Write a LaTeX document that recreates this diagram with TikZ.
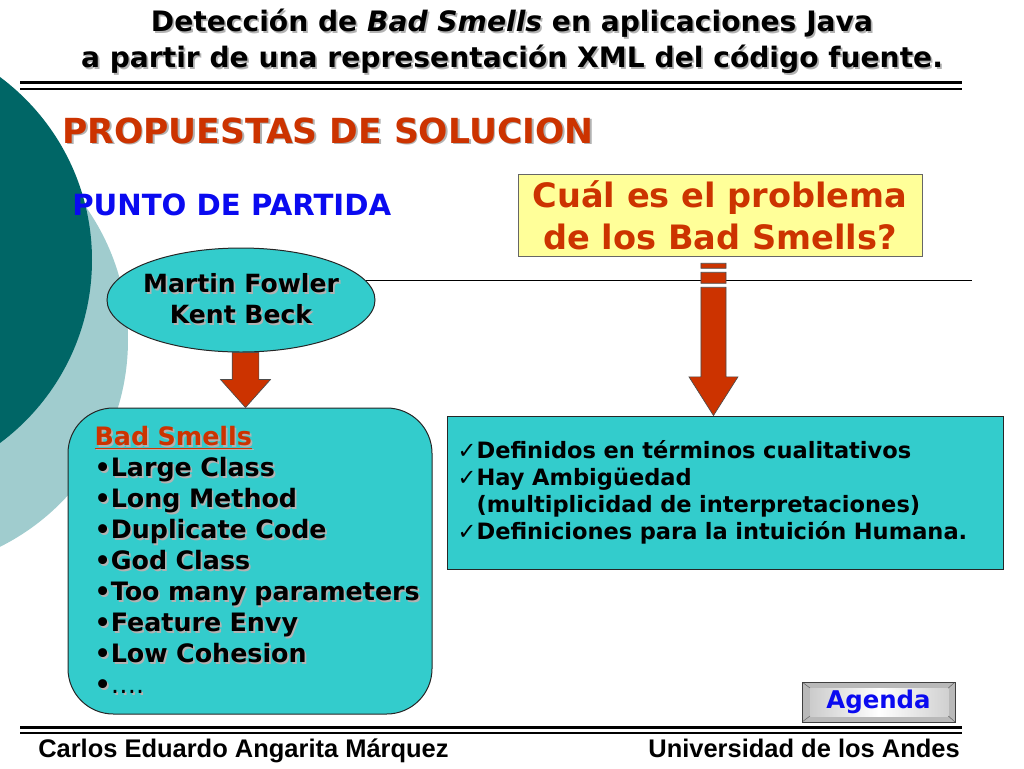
\documentclass[tikz,border=0pt]{standalone}
\usepackage{fontspec}
\setmainfont{DejaVu Sans}
\newfontfamily\arialfont{Liberation Sans}
\usetikzlibrary{positioning}
\usetikzlibrary{shapes.geometric}
\usetikzlibrary{calc}
\definecolor{tealdark}{RGB}{0,102,102}
\definecolor{teallight}{RGB}{160,204,206}
\definecolor{boxcyan}{RGB}{51,204,204}
\definecolor{rojo}{RGB}{204,51,0}
\definecolor{amarillo}{RGB}{255,255,153}
\definecolor{azul}{RGB}{10,10,240}
\newcommand\shd[1]{\mbox{\makebox[0pt][l]{\hspace{1.3pt}\raisebox{-1.3pt}{\color{black!30}#1}}#1}}
\tikzset{
titulo/.style={ % Title of the slide
align=center,
font=\bfseries\fontsize{21.1}{27}\selectfont},
caja/.style={ % Cyan boxes
draw=black!85,
fill=boxcyan,
line width=0.75pt},
flecha/.style={ % Red block arrows
fill=rojo,
draw=black!70,
line width=0.5pt},
pie/.style={inner xsep=0pt, font=\arialfont\bfseries\fontsize{19.1}{22}\selectfont}}

\begin{document}
\begin{tikzpicture}[x=0.75pt, y=-0.75pt]
	\useasboundingbox (0,0) rectangle (1024,768);
	% background circles
	\fill[teallight] (-103,340) circle (173.25pt);
	\fill[tealdark] (-136,260) circle (171pt);
	% header and footer
	\node[titulo] (titulo) at (512,42.5) {\shd{Detección de \textit{Bad Smells} en aplicaciones Java}\\\shd{a partir de una representación XML del código fuente.}};
	\draw[line width=2.25pt] (20,82.5) -- (962,82.5);
	\draw[line width=1.5pt] (20,88.5) -- (962,88.5);
	\draw[line width=2.25pt] (20,727) -- (962,727);
	\draw[line width=1.5pt] (20,732.5) -- (962,732.5);
	\node[pie, anchor=base west] (autor) at (38,757) {Carlos Eduardo Angarita Márquez};
	\node[pie, anchor=base east] (univ) at (960,757) {Universidad de los Andes};
	\node[anchor=base west, inner xsep=0pt, text=rojo, font=\bfseries\fontsize{25.9}{30}\selectfont] (propuestas) at (62,143) {\shd{PROPUESTAS DE SOLUCION}};
	\node[anchor=base west, inner xsep=0pt, text=azul, font=\bfseries\fontsize{21.9}{24}\selectfont] (punto) at (72,215) {PUNTO DE PARTIDA};
	% nodes
	\node[draw=black!60, fill=amarillo, minimum width=303pt, minimum height=61.5pt, align=center, text=rojo, font=\bfseries\fontsize{25.2}{31.5}\selectfont] (pregunta) at (720,215) {Cuál es el problema \\ de los Bad Smells?};
	\node[caja, ellipse, minimum width=201pt, minimum height=78pt, inner xsep=-10pt, inner ysep=0pt, align=center, font=\bfseries\fontsize{18.8}{23.25}\selectfont] (autores) at (241,300) {\shd{Martin Fowler}\\\shd{Kent Beck}};
	\node[caja, rounded corners=34pt, minimum width=273pt, minimum height=229.5pt, inner xsep=20pt, text width=233pt, align=left, font=\bfseries\fontsize{19}{23.25}\selectfont] (smells) at (250,561) {\textcolor{rojo}{\shd{\underline{Bad Smells}}}\\\shd{•Large Class}\\\shd{•Long Method}\\\shd{•Duplicate Code}\\\shd{•God Class}\\\shd{•Too many parameters}\\\shd{•Feature Envy}\\\shd{•Low Cohesion}\\\shd{•{\mdseries ….}}};
	\node[caja, minimum width=417pt, minimum height=114.75pt, inner xsep=8pt, text width=401pt, align=left, font=\bfseries\fontsize{16.9}{20.25}\selectfont] (problemas) at (725,492.5) {{\mdseries ✓}Definidos en términos cualitativos\\{\mdseries ✓}Hay Ambigüedad\\{\mdseries\phantom{✓}}(multiplicidad de interpretaciones)\\{\mdseries ✓}Definiciones para la intuición Humana.};
	\node[draw=black!75, fill=gray!55, minimum width=114.75pt, minimum height=30pt, text=azul, font=\bfseries\fontsize{18.3}{20}\selectfont,
		path picture={\shade[left color=gray!45, right color=gray!40, middle color=white] ([shift={(6pt,4.5pt)}]path picture bounding box.south west) rectangle ([shift={(-5pt,-4.5pt)}]path picture bounding box.north east);
		\draw[black!60] (path picture bounding box.south west) -- ++(6pt,4.5pt) (path picture bounding box.north west) -- ++(6pt,-4.5pt) (path picture bounding box.north east) -- ++(-5pt,-4.5pt) (path picture bounding box.south east) -- ++(-5pt,4.5pt);}] (agenda) at (878.5,702) {Agenda};
	% connectors
	\coordinate (lineaR) at (972,281);
	\draw[line width=0.9pt] (autores.9) -- (autores.9 -| lineaR);
	\path[flecha] let \p1=(autores.south), \p2=(smells.north), \n1={(\x1+\x2)/2} in
		(\n1-10pt,\y1) -- (\n1-10pt,\y2+21pt) -- (\n1-18.75pt,\y2+21pt) -- (\n1,\y2) -- (\n1+18.75pt,\y2+21pt) -- (\n1+10pt,\y2+21pt) -- (\n1+10pt,\y1) -- cycle;
	\path[flecha] let \p1=(pregunta.south), \p2=(problemas.north), \n1={\x1-4.9pt} in
		(\n1-9.4pt,\y1-5.25pt) rectangle (\n1+9.4pt,\y1-9pt)
		(\n1-9.4pt,\y1-12pt) rectangle (\n1+9.4pt,\y1-20.25pt)
		(\n1-9.4pt,\y1-23.25pt) -- (\n1-9.4pt,\y2+29pt) -- (\n1-18.4pt,\y2+29pt) -- (\n1,\y2) -- (\n1+18.4pt,\y2+29pt) -- (\n1+9.4pt,\y2+29pt) -- (\n1+9.4pt,\y1-23.25pt) -- cycle;
\end{tikzpicture}
\end{document}
